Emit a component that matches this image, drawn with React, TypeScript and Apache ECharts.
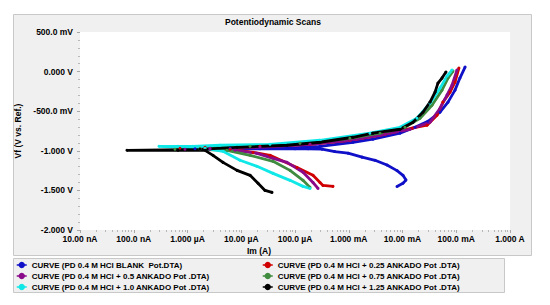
import React, { useEffect, useRef } from "react";
import * as echarts from "echarts";

// [current (A), potential (V)]
const blank: [number, number][] = [
  [7.9e-3, -1.45], [1.02e-2, -1.41], [1.16e-2, -1.37], [1.02e-2, -1.31], [7.9e-3, -1.25],
  [5.15e-3, -1.18], [3.08e-3, -1.12], [1.77e-3, -1.08], [9.7e-4, -1.03], [5.5e-4, -1.01],
  [3.18e-4, -0.98], [1.75e-4, -0.975], [1.0e-4, -0.975], [2.23e-5, -0.975], [6.2e-6, -0.975],
  [1.38e-6, -0.975], [6.2e-6, -0.968], [7.1e-5, -0.968], [2.92e-4, -0.943], [1.2e-3, -0.892],
  [2.82e-3, -0.854], [8.97e-3, -0.778], [1.71e-2, -0.703], [2.98e-2, -0.627], [4.99e-2, -0.513],
  [7.03e-2, -0.386], [9.48e-2, -0.234], [0.117, -0.082], [0.146, 0.057],
];
const ank025: [number, number][] = [
  [5.09e-4, -1.449], [3.32e-4, -1.437], [2.92e-4, -1.4], [2.16e-4, -1.31], [1.09e-4, -1.21],
  [3.43e-5, -1.057], [1.66e-5, -1.02], [6.2e-6, -0.98], [2.12e-6, -0.968], [7.2e-7, -0.968],
  [2.12e-6, -0.956], [2.23e-5, -0.943], [1.9e-4, -0.918], [1.05e-3, -0.867], [4.72e-3, -0.791],
  [1.5e-2, -0.715], [2.86e-2, -0.677], [4.39e-2, -0.551], [5.66e-2, -0.386], [7.66e-2, -0.259],
  [9.48e-2, -0.133], [0.112, 0.044],
];
const ank05: [number, number][] = [
  [2.68e-4, -1.475], [2.16e-4, -1.4], [1.41e-4, -1.27], [7.1e-5, -1.146], [3.9e-5, -1.095],
  [1.96e-5, -1.032], [7.66e-6, -0.994], [2.62e-6, -0.981], [8.97e-7, -0.981], [2.62e-6, -0.968],
  [2.23e-5, -0.956], [1.9e-4, -0.918], [1.05e-3, -0.867], [4.72e-3, -0.791], [1.38e-2, -0.728],
  [3.25e-2, -0.639], [4.99e-2, -0.462], [6.73e-2, -0.297], [8.34e-2, -0.171], [0.103, 0.019],
];
const ank075: [number, number][] = [
  [1.9e-4, -1.462], [1.41e-4, -1.373], [8.07e-5, -1.247], [3.9e-5, -1.133], [1.46e-5, -1.057],
  [5.43e-6, -0.994], [1.71e-6, -0.981], [5.85e-7, -0.981], [1.71e-6, -0.968], [1.46e-5, -0.943],
  [1.24e-4, -0.905], [1.05e-3, -0.842], [3.81e-3, -0.778], [1.11e-2, -0.703], [2.12e-2, -0.589],
  [3.54e-2, -0.424], [5.43e-2, -0.234], [7.03e-2, -0.082], [8.71e-2, 0.006],
];
const ank10: [number, number][] = [
  [1.9e-4, -1.475], [1.41e-4, -1.449], [8.07e-5, -1.373], [3.9e-5, -1.285], [1.96e-5, -1.196],
  [9.48e-6, -1.12], [4.57e-6, -1.006], [2.12e-6, -0.968], [2.95e-7, -0.943], [6.65e-7, -0.943],
  [1.26e-6, -0.943], [4.03e-6, -0.93], [3.43e-5, -0.918], [2.92e-4, -0.867], [2.48e-3, -0.778],
  [8.97e-3, -0.703], [1.86e-2, -0.589], [3.25e-2, -0.399], [4.99e-2, -0.209], [6.73e-2, -0.057],
  [8.34e-2, 0.019],
];
const ank125: [number, number][] = [
  [3.73e-5, -1.525], [2.77e-5, -1.5], [2.05e-5, -1.41], [1.46e-5, -1.31], [8.34e-6, -1.247],
  [4.57e-6, -1.146], [2.98e-6, -1.057], [2.12e-6, -0.994], [6.65e-7, -0.994], [7.48e-8, -0.994],
  [1.71e-6, -0.981], [8.34e-6, -0.956], [7.1e-5, -0.93], [2.92e-4, -0.892], [1.2e-3, -0.829],
  [2.82e-3, -0.778], [8.97e-3, -0.728], [1.57e-2, -0.639], [2.4e-2, -0.513], [3.25e-2, -0.386],
  [4.03e-2, -0.259], [4.57e-2, -0.146], [5.43e-2, -0.082], [6.44e-2, -0.006],
];

const seriesNames = [
  "CURVE (PD 0.4 M HCl BLANK  Pot.DTA)",
  "CURVE (PD 0.4 M HCl + 0.25 ANKADO Pot .DTA)",
  "CURVE (PD 0.4 M HCl + 0.5 ANKADO Pot .DTA)",
  "CURVE (PD 0.4 M HCl + 0.75 ANKADO Pot .DTA)",
  "CURVE (PD 0.4 M HCl + 1.0 ANKADO Pot .DTA)",
  "CURVE (PD 0.4 M HCl + 1.25 ANKADO Pot .DTA)",
];
const seriesColors = ["#1010C8", "#D00000", "#8A0A8A", "#3F8B3F", "#10E8E8", "#000000"];
const seriesData = [blank, ank025, ank05, ank075, ank10, ank125];

const xTickLabels = [
  "10.00 nA", "100.0 nA", "1.000 µA", "10.00 µA", "100.0 µA",
  "1.000 mA", "10.00 mA", "100.0 mA", "1.000 A",
];
const yTickValues = [-2, -1.5, -1, -0.5, 0, 0.5];
const yTickLabels = ["-2.000 V", "-1.500 V", "-1.000 V", "-500.0 mV", "0.000 V", "500.0 mV"];

const FONT = "'Liberation Sans', Arial, sans-serif";

export default function App() {
  const ref = useRef<HTMLDivElement>(null);
  useEffect(() => {
    if (!ref.current) return;
    const chart = echarts.init(ref.current, undefined, { renderer: "svg" });
    const bold = { fontFamily: FONT, fontWeight: "bold" as const, color: "#000" };
    chart.setOption({
      animation: false,
      backgroundColor: "#ffffff",
      title: {
        text: "Potentiodynamic Scans",
        left: 225,
        top: 17,
        padding: 0,
        textStyle: { ...bold, fontSize: 8.5 },
      },
      graphic: [
        {
          type: "rect",
          z: -10,
          shape: { x: 13.5, y: 14.5, width: 518, height: 241 },
          style: { fill: "#F0F0F0", stroke: "#C8C8C8", lineWidth: 1 },
        },
        {
          type: "rect",
          z: -10,
          shape: { x: 13.5, y: 258.5, width: 491, height: 34 },
          style: { fill: "#F0F0F0", stroke: "#C8C8C8", lineWidth: 1 },
        },
        {
          type: "text",
          x: 259,
          y: 251,
          style: {
            text: "Im (A)",
            fontFamily: FONT,
            fontWeight: "bold",
            fontSize: 8.5,
            fill: "#000",
            align: "center",
            verticalAlign: "middle",
          },
        },
      ],
      grid: {
        left: 80,
        top: 32,
        width: 430,
        height: 198,
        show: true,
        backgroundColor: "#ffffff",
        borderWidth: 0,
      },
      xAxis: {
        type: "log",
        logBase: 10,
        min: 1e-8,
        max: 1,
        axisLine: { show: false, onZero: false },
        axisTick: { show: true, length: 3, lineStyle: { color: "#A8A8A8" } },
        minorTick: { show: true, splitNumber: 9, length: 2, lineStyle: { color: "#B8B8B8" } },
        splitLine: { show: false },
        axisLabel: {
          ...bold,
          fontSize: 8.5,
          margin: 4,
          showMinLabel: true,
          showMaxLabel: true,
          formatter: (v: number) => xTickLabels[Math.round(Math.log10(v)) + 8] ?? "",
        },
      },
      yAxis: {
        type: "value",
        min: -2,
        max: 0.5,
        interval: 0.5,
        name: "Vf (V vs. Ref.)",
        nameLocation: "middle",
        nameGap: 58,
        nameTextStyle: { ...bold, fontSize: 8.5 },
        axisLine: { show: false, onZero: false },
        axisTick: { show: true, length: 3, lineStyle: { color: "#A8A8A8" } },
        minorTick: { show: true, splitNumber: 5, length: 2, lineStyle: { color: "#B8B8B8" } },
        splitLine: { show: false },
        axisLabel: {
          ...bold,
          fontSize: 8.5,
          margin: 7,
          formatter: (v: number) => {
            const i = yTickValues.findIndex((t) => Math.abs(t - v) < 1e-9);
            return i >= 0 ? yTickLabels[i] : "";
          },
        },
      },
      legend: [
        {
          data: [seriesNames[0], seriesNames[2], seriesNames[4]],
          orient: "vertical",
          left: 16,
          top: 261,
          padding: 0,
          itemWidth: 10,
          itemHeight: 8,
          itemGap: 3,
          textStyle: { ...bold, fontSize: 8 },
          lineStyle: { width: 1.5 },
        },
        {
          data: [seriesNames[1], seriesNames[3], seriesNames[5]],
          orient: "vertical",
          left: 262,
          top: 261,
          padding: 0,
          itemWidth: 10,
          itemHeight: 8,
          itemGap: 3,
          textStyle: { ...bold, fontSize: 8 },
          lineStyle: { width: 1.5 },
        },
      ],
      series: seriesData.map((d, i) => ({
        type: "line",
        name: seriesNames[i],
        data: d,
        color: seriesColors[i],
        symbol: "circle",
        symbolSize: 3,
        showSymbol: true,
        lineStyle: { width: 2.8, color: seriesColors[i] },
        itemStyle: { color: seriesColors[i] },
        clip: true,
      })),
    });
    return () => chart.dispose();
  }, []);
  return (
    <div
      ref={ref}
      style={{ position: "fixed", left: 0, top: 0, width: 550, height: 305 }}
    />
  );
}
